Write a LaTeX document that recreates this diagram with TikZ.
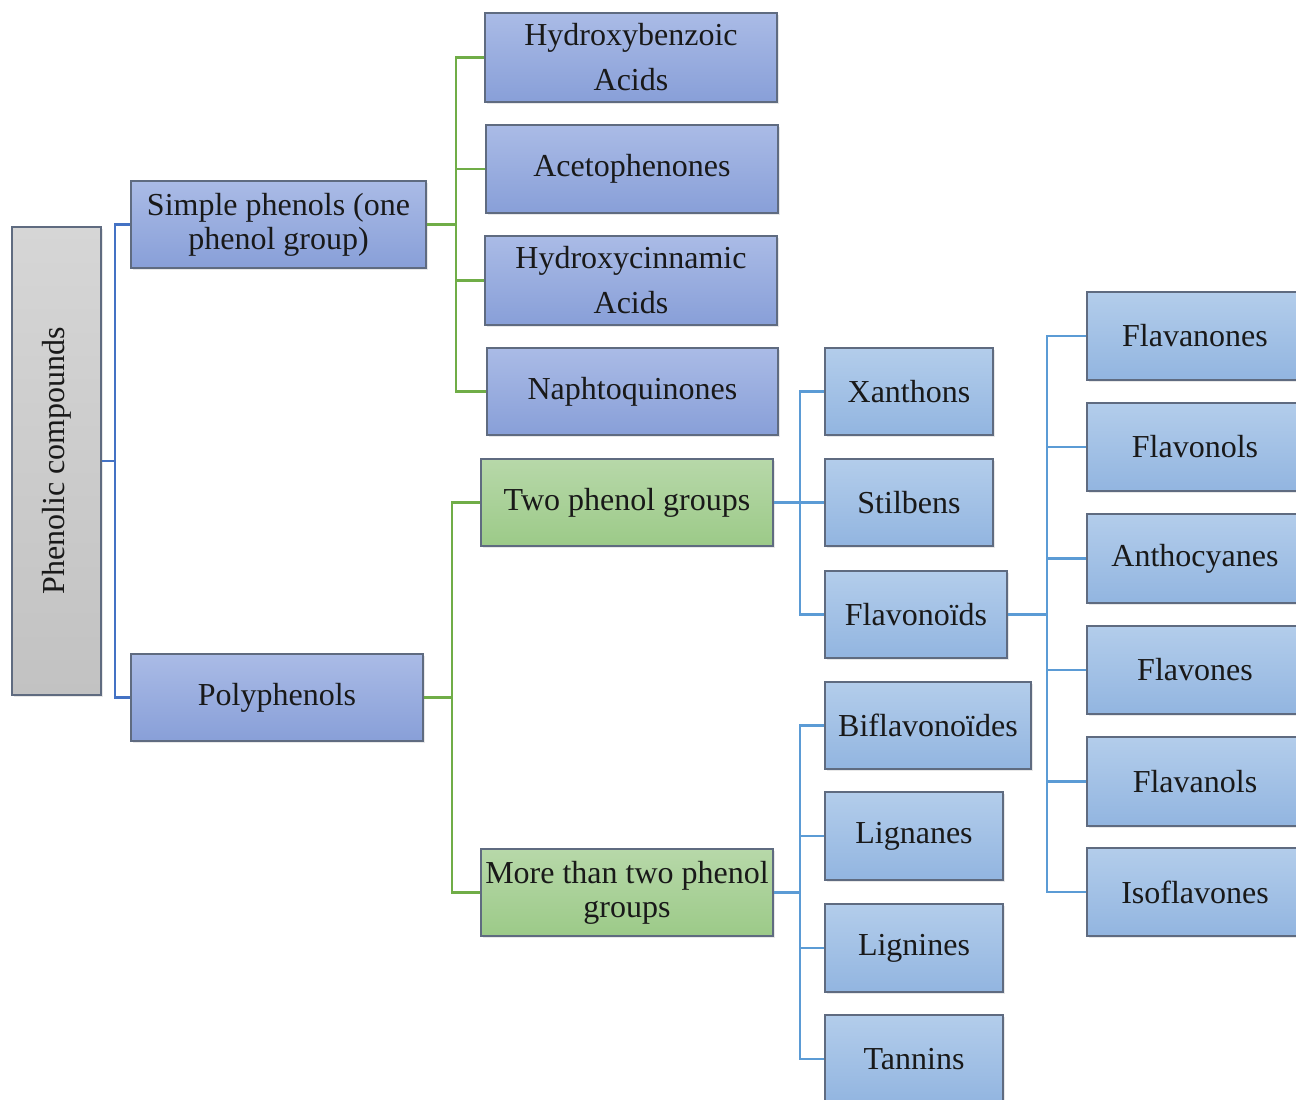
\documentclass[tikz,border=0pt]{standalone}
\usepackage{fontspec}
\setmainfont{Liberation Serif}
\usetikzlibrary{shadows}
\definecolor{bTop}{HTML}{AABBE6}
\definecolor{bBot}{HTML}{889FD8}
\definecolor{lTop}{HTML}{B3CDEB}
\definecolor{lBot}{HTML}{92B5E0}
\definecolor{gTop}{HTML}{B7D8A9}
\definecolor{gBot}{HTML}{9CCA88}
\definecolor{grTop}{HTML}{D6D6D6}
\definecolor{grBot}{HTML}{C2C2C2}
\definecolor{edge}{HTML}{5F6B80}
\definecolor{cBlue}{HTML}{4472C4}
\definecolor{cGreen}{HTML}{70AD47}
\definecolor{cLight}{HTML}{5B9BD5}
\begin{document}
\begin{tikzpicture}[x=1pt,y=-1pt,
  base/.style={draw=edge,line width=1.2pt,shading=axis,inner sep=0pt,align=center,
    font=\fontsize{32}{34}\selectfont,text=black!90,
    drop shadow={opacity=0.18,shadow xshift=1.5pt,shadow yshift=-1.5pt}},
  bbox/.style={base,top color=bTop,bottom color=bBot},
  lbox/.style={base,top color=lTop,bottom color=lBot},
  gbox/.style={base,top color=gTop,bottom color=gBot},
  graybox/.style={base,top color=grTop,bottom color=grBot},
  blueline/.style={draw=cBlue,line width=2.5pt},
  greenline/.style={draw=cGreen,line width=2.5pt},
  lightline/.style={draw=cLight,line width=2.5pt}]
\useasboundingbox (0,0) rectangle (1296,1100);
\clip (0,0) rectangle (1296,1100);
% level 0
\node[graybox,minimum width=89pt,minimum height=468pt] (pc) at (56.5,461) {};
\node[rotate=90,font=\fontsize{32}{34}\selectfont,text=black!90] (pct) at (56.5,461) {Phenolic compounds};
% level 1
\node[bbox,minimum width=295pt,minimum height=87pt] (simple) at (278.5,224.5) {Simple phenols (one\\phenol group)};
\node[bbox,minimum width=292pt,minimum height=87pt] (poly) at (277,697.5) {Polyphenols};
% level 2
\node[bbox,minimum width=292pt,minimum height=89pt] (hba) at (631,57.5) {Hydroxybenzoic\\[11pt]Acids};
\node[bbox,minimum width=292pt,minimum height=88pt] (aceto) at (632,169) {Acetophenones};
\node[bbox,minimum width=292pt,minimum height=89pt] (hca) at (631,280.5) {Hydroxycinnamic\\[11pt]Acids};
\node[bbox,minimum width=291pt,minimum height=87pt] (naph) at (632.5,391.5) {Naphtoquinones};
\node[gbox,minimum width=292pt,minimum height=87pt] (two) at (627,502.5) {Two phenol groups};
\node[gbox,minimum width=292pt,minimum height=87pt] (more) at (627,892.5) {More than two phenol\\groups};
% level 3
\node[lbox,minimum width=168pt,minimum height=87pt] (xan) at (909,391.5) {Xanthons};
\node[lbox,minimum width=168pt,minimum height=87pt] (stil) at (909,502.5) {Stilbens};
\node[lbox,minimum width=182pt,minimum height=87pt] (flav) at (916,614.5) {Flavonoïds};
\node[lbox,minimum width=206pt,minimum height=87pt] (bifl) at (928,725.5) {Biflavonoïdes};
\node[lbox,minimum width=178pt,minimum height=88pt] (lgn) at (914,836) {Lignanes};
\node[lbox,minimum width=178pt,minimum height=88pt] (lgi) at (914,948) {Lignines};
\node[lbox,minimum width=178pt,minimum height=88pt] (tan) at (914,1059) {Tannins};
% level 4
\node[lbox,minimum width=216pt,minimum height=88pt] (f1) at (1195,336) {Flavanones};
\node[lbox,minimum width=216pt,minimum height=88pt] (f2) at (1195,447) {Flavonols};
\node[lbox,minimum width=216pt,minimum height=89pt] (f3) at (1195,558.5) {Anthocyanes};
\node[lbox,minimum width=216pt,minimum height=88pt] (f4) at (1195,670) {Flavones};
\node[lbox,minimum width=216pt,minimum height=89pt] (f5) at (1195,781.5) {Flavanols};
\node[lbox,minimum width=216pt,minimum height=88pt] (f6) at (1195,892) {Isoflavones};
% junctions
\coordinate (j0) at (115,461);
\coordinate (j1) at (456,224.5);
\coordinate (j2) at (452,697.5);
\coordinate (j3) at (800,502.5);
\coordinate (j4) at (800,892.5);
\coordinate (j5) at (1047,614.5);
% connectors
\draw[blueline] (pc.east) -- (j0);
\draw[blueline] (j0) |- (simple.west);
\draw[blueline] (j0) |- (poly.west);
\draw[greenline] (simple.east) -- (j1);
\foreach \t in {hba,aceto,hca,naph} \draw[greenline] (j1) |- (\t.west);
\draw[greenline] (poly.east) -- (j2);
\foreach \t in {two,more} \draw[greenline] (j2) |- (\t.west);
\draw[lightline] (two.east) -- (j3);
\foreach \t in {xan,stil,flav} \draw[lightline] (j3) |- (\t.west);
\draw[lightline] (more.east) -- (j4);
\foreach \t in {bifl,lgn,lgi,tan} \draw[lightline] (j4) |- (\t.west);
\draw[lightline] (flav.east) -- (j5);
\foreach \t in {f1,f2,f3,f4,f5,f6} \draw[lightline] (j5) |- (\t.west);
\end{tikzpicture}
\end{document}
